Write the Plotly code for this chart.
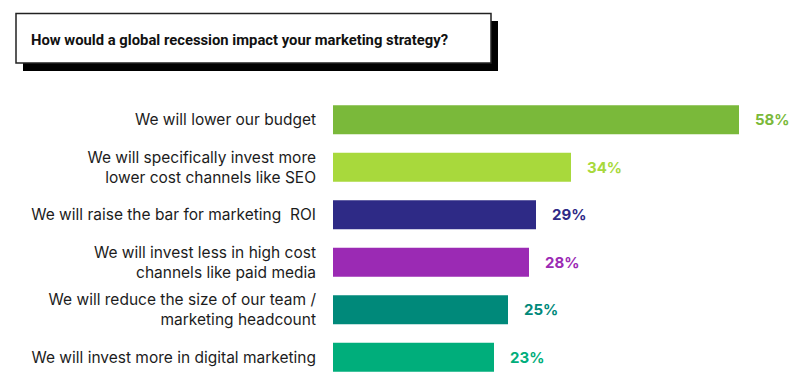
import plotly.graph_objects as go

categories = [
    "We will lower our budget",
    "We will specifically invest more<br>lower cost channels like SEO",
    "We will raise the bar for marketing  ROI",
    "We will invest less in high cost<br>channels like paid media",
    "We will reduce the size of our team /<br>marketing headcount",
    "We will invest more in digital marketing",
]
values = [58, 34, 29, 28, 25, 23]
colors = ["#7ab93a", "#a8d93c", "#2e2a86", "#9b2ab4", "#00897a", "#00ae7b"]
title = "How would a global recession impact your marketing strategy?"

W, H = 800, 382
L, R, T, B = 333, 0, 96, 1
PW, PH = W - L - R, H - T - B
PX_PER_UNIT = 7.0


def px_x(x):
    return (x - L) / PW


def px_y(y):
    return (H - B - y) / PH


fig = go.Figure()
fig.add_trace(go.Bar(
    x=values, y=categories, orientation="h",
    marker=dict(color=colors, line=dict(width=0)),
    hoverinfo="skip",
))

annotations = []
for c, v, col in zip(categories, values, colors):
    annotations.append(dict(
        x=v, y=c, xref="x", yref="y", text=f"<b>{v}%</b>", showarrow=False,
        xanchor="left", yanchor="middle", xshift=14,
        font=dict(family="Inter, Roboto, sans-serif", size=15, color=col),
    ))

annotations.append(dict(
    x=px_x(29), y=px_y(40), xref="paper", yref="paper", text=title,
    showarrow=False, xanchor="left", yanchor="middle",
    font=dict(family="Roboto, sans-serif", size=14.8, color="#111111", weight=700),
))

shapes = [
    dict(type="rect", xref="paper", yref="paper",
         x0=px_x(23), x1=px_x(498), y0=px_y(71), y1=px_y(21),
         fillcolor="#000000", line=dict(width=0), layer="below"),
    dict(type="rect", xref="paper", yref="paper",
         x0=px_x(16), x1=px_x(491), y0=px_y(63), y1=px_y(13.5),
         fillcolor="#ffffff", line=dict(color="#222222", width=1.5), layer="below"),
]

fig.update_layout(
    width=W, height=H,
    margin=dict(l=L, r=R, t=T, b=B, pad=0),
    paper_bgcolor="white", plot_bgcolor="white",
    showlegend=False, bargap=0.39,
    xaxis=dict(range=[0, PW / PX_PER_UNIT], visible=False, fixedrange=True),
    yaxis=dict(autorange="reversed", showgrid=False, zeroline=False, showline=False,
               ticks="", ticklabelstandoff=16,
               tickfont=dict(family="Inter, Open Sans, sans-serif", size=15.5, color="#1c1c1c")),
    annotations=annotations, shapes=shapes,
)

fig.write_html("out.html", config={"displayModeBar": False},
               post_script="document.body.style.margin='0';")
